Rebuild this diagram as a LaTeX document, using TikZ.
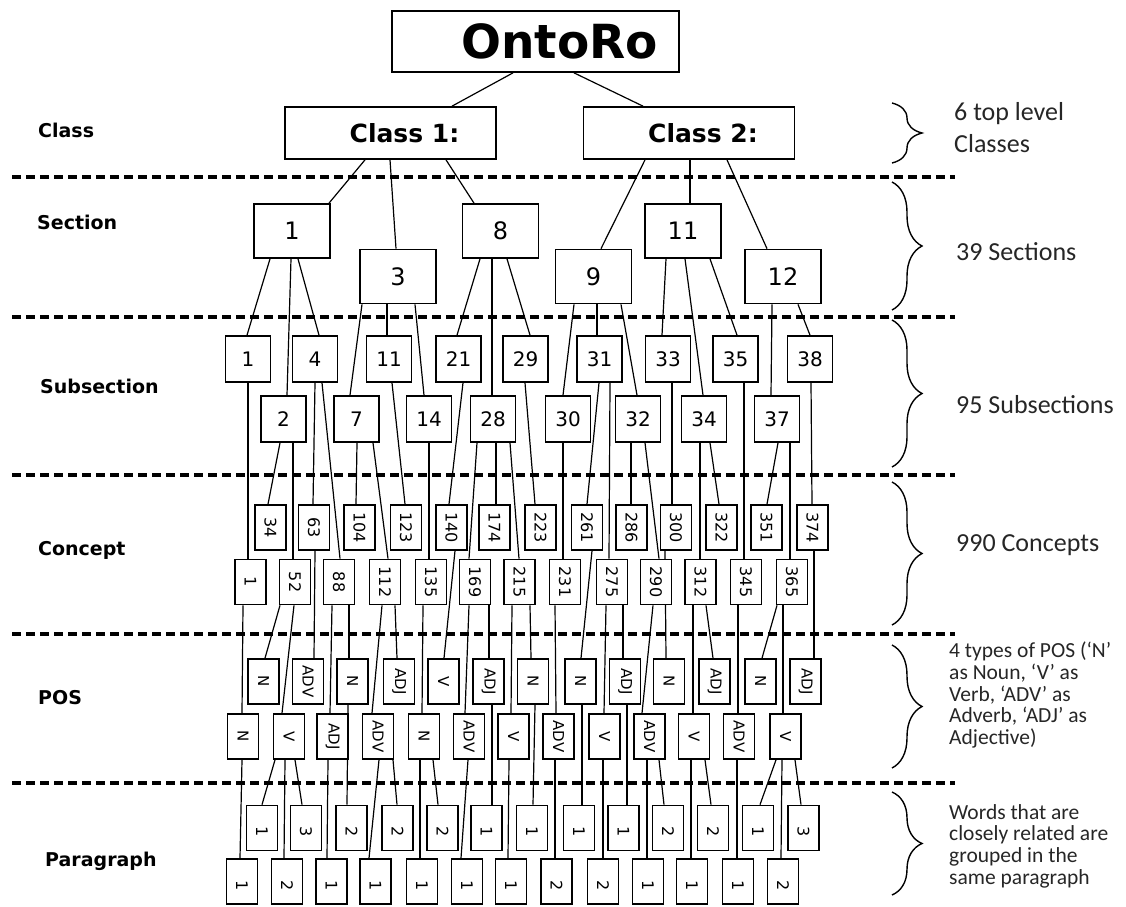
\documentclass[tikz,border=0pt]{standalone}
\usepackage{fontspec}
\usepackage{graphicx}
\setmainfont{Carlito}
\newfontfamily\vfont{DejaVu Sans}
\usetikzlibrary{backgrounds,decorations.pathreplacing}
\newcommand\myrot[1]{\rotatebox{-90}{#1}}
\newcommand\lnk[4]{\draw[conn] ([xshift=#2]#1.south) -- ([xshift=#4]#3.north);}
\tikzset{
  box/.style={draw, line width=1.7pt, fill=white, inner sep=0pt},
  rootbox/.style={box, minimum width=287, minimum height=61, font={\vfont\bfseries\fontsize{47}{50}\selectfont}},
  classbox/.style={box, minimum width=211, minimum height=52, font={\vfont\bfseries\fontsize{25}{28}\selectfont}},
  secbox/.style={box, minimum width=76, minimum height=54, font={\vfont\fontsize{24}{26}\selectfont}},
  subbox/.style={box, minimum width=45, minimum height=46, font={\vfont\fontsize{20}{22}\selectfont}},
  conbox/.style={box, minimum width=31, minimum height=45, font={\vfont\fontsize{16}{18}\selectfont}},
  posbox/.style={box, minimum width=31, minimum height=45, font={\vfont\fontsize{15}{17}\selectfont}},
  parbox/.style={box, minimum width=31, minimum height=45, font={\vfont\fontsize{16}{18}\selectfont}},
  conn/.style={line width=1.2pt},
  sepline/.style={line width=3.2pt, dash pattern=on 9pt off 5pt},
  lab/.style={anchor=west, inner sep=0pt, font={\vfont\bfseries\fontsize{19}{21}\selectfont}},
  note/.style={anchor=west, inner sep=0pt, align=left, text=black!85, font={\fontsize{26}{32}\selectfont}},
  smallnote/.style={anchor=west, inner sep=0pt, align=left, text=black!85, font={\fontsize{21.5}{21.7}\selectfont}},
  bracestyle/.style={line width=1.4pt, decorate, decoration={brace, amplitude=30pt}}
}
\begin{document}
\begin{tikzpicture}[x=1pt,y=-1pt]
\useasboundingbox (0,0) rectangle (1126,906);

% separators
\foreach \yy in {177,317,475,634,783} {\draw[sepline] (12,\yy) -- (955,\yy);}

% left labels
\node[lab] (lClass) at (38,130) {Class};
\node[lab] (lSection) at (37,222) {Section};
\node[lab] (lSub) at (40,386) {Subsection};
\node[lab] (lConcept) at (38,550) {Concept};
\node[lab] (lPOS) at (38,698) {POS};
\node[lab] (lPar) at (45,861) {Paragraph};

% braces and notes
\draw[bracestyle] (892,103) -- (892,163);
\draw[bracestyle] (892,182) -- (892,310);
\draw[bracestyle] (892,320) -- (892,467);
\draw[bracestyle] (892,482) -- (892,625);
\draw[bracestyle] (892,645) -- (892,768);
\draw[bracestyle] (892,792) -- (892,895);
\node[note] (n1) at (954,127.5) {6 top level\\Classes};
\node[note] (n2) at (956,252) {39 Sections};
\node[note] (n3) at (956,405) {95 Subsections};
\node[note] (n4) at (956,545) {990 Concepts};
\node[smallnote] (n5) at (949,695) {4 types of POS (‘N’\\as Noun, ‘V’ as\\Verb, ‘ADV’ as\\Adverb, ‘ADJ’ as\\Adjective)};
\node[smallnote] (n6) at (949,846) {Words that are\\closely related are\\grouped in the\\same paragraph};

% root and classes
\node[rootbox] (onto) at (535.5,41.5) {\hspace*{48pt}OntoRo};
\node[classbox] (cl1) at (390.5,133) {\hspace*{28pt}Class 1:};
\node[classbox] (cl2) at (689,133) {\hspace*{28pt}Class 2:};

% sections
\node[secbox] (s1) at (292,231) {1};
\node[secbox] (s3) at (398,276.5) {3};
\node[secbox] (s8) at (500.5,231) {8};
\node[secbox] (s9) at (593.5,276.5) {9};
\node[secbox] (s11) at (683,231) {11};
\node[secbox] (s12) at (783,276.5) {12};

% subsections
\node[subbox] (ss1) at (248,359) {1};
\node[subbox] (ss4) at (315,359) {4};
\node[subbox] (ss11) at (389,359) {11};
\node[subbox] (ss21) at (458.5,359) {21};
\node[subbox] (ss29) at (525.5,359) {29};
\node[subbox] (ss31) at (599.5,359) {31};
\node[subbox] (ss33) at (668,359) {33};
\node[subbox] (ss35) at (735.5,359) {35};
\node[subbox] (ss38) at (810,359) {38};
\node[subbox] (ss2) at (283.5,419) {2};
\node[subbox] (ss7) at (356.5,419) {7};
\node[subbox] (ss14) at (429,419) {14};
\node[subbox] (ss28) at (493,419) {28};
\node[subbox] (ss30) at (568,419) {30};
\node[subbox] (ss32) at (638,419) {32};
\node[subbox] (ss34) at (704,419) {34};
\node[subbox] (ss37) at (777,419) {37};

% concepts
\node[conbox] (c34) at (270.5,527.5) {\myrot{34}};
\node[conbox] (c63) at (314,527.5) {\myrot{63}};
\node[conbox] (c104) at (359.5,527.5) {\myrot{104}};
\node[conbox] (c123) at (406,527.5) {\myrot{123}};
\node[conbox] (c140) at (451.5,527.5) {\myrot{140}};
\node[conbox] (c174) at (494.5,527.5) {\myrot{174}};
\node[conbox] (c223) at (540.5,527.5) {\myrot{223}};
\node[conbox] (c261) at (587,527.5) {\myrot{261}};
\node[conbox] (c286) at (631.5,527.5) {\myrot{286}};
\node[conbox] (c300) at (676,527.5) {\myrot{300}};
\node[conbox] (c322) at (721.5,527.5) {\myrot{322}};
\node[conbox] (c351) at (766.5,527.5) {\myrot{351}};
\node[conbox] (c374) at (812.5,527.5) {\myrot{374}};
\node[conbox] (c1) at (250.5,582) {\myrot{1}};
\node[conbox] (c52) at (295,582) {\myrot{52}};
\node[conbox] (c88) at (339,582) {\myrot{88}};
\node[conbox] (c112) at (385,582) {\myrot{112}};
\node[conbox] (c135) at (431,582) {\myrot{135}};
\node[conbox] (c169) at (475,582) {\myrot{169}};
\node[conbox] (c215) at (519.5,582) {\myrot{215}};
\node[conbox] (c231) at (565,582) {\myrot{231}};
\node[conbox] (c275) at (612,582) {\myrot{275}};
\node[conbox] (c290) at (656,582) {\myrot{290}};
\node[conbox] (c312) at (700.5,582) {\myrot{312}};
\node[conbox] (c345) at (746,582) {\myrot{345}};
\node[conbox] (c365) at (792,582) {\myrot{365}};

% POS
\node[posbox] (pN1) at (263.5,681.5) {\myrot{N}};
\node[posbox] (pADV1) at (308,681.5) {\myrot{ADV}};
\node[posbox] (pN2) at (352.5,681.5) {\myrot{N}};
\node[posbox] (pADJ1) at (399,681.5) {\myrot{ADJ}};
\node[posbox] (pV1) at (443.5,681.5) {\myrot{V}};
\node[posbox] (pADJ2) at (488.5,681.5) {\myrot{ADJ}};
\node[posbox] (pN3) at (533,681.5) {\myrot{N}};
\node[posbox] (pN4) at (580.5,681.5) {\myrot{N}};
\node[posbox] (pADJ3) at (625,681.5) {\myrot{ADJ}};
\node[posbox] (pN5) at (669,681.5) {\myrot{N}};
\node[posbox] (pADJ4) at (714.5,681.5) {\myrot{ADJ}};
\node[posbox] (pN6) at (760.5,681.5) {\myrot{N}};
\node[posbox] (pADJ5) at (805.5,681.5) {\myrot{ADJ}};
\node[posbox] (qN1) at (243,736.5) {\myrot{N}};
\node[posbox] (qV1) at (289,736.5) {\myrot{V}};
\node[posbox] (qADJ1) at (332.5,736.5) {\myrot{ADJ}};
\node[posbox] (qADV1) at (378,736.5) {\myrot{ADV}};
\node[posbox] (qN2) at (424,736.5) {\myrot{N}};
\node[posbox] (qADV2) at (469,736.5) {\myrot{ADV}};
\node[posbox] (qV2) at (513.5,736.5) {\myrot{V}};
\node[posbox] (qADV3) at (558.5,736.5) {\myrot{ADV}};
\node[posbox] (qV3) at (604.5,736.5) {\myrot{V}};
\node[posbox] (qADV4) at (649.5,736.5) {\myrot{ADV}};
\node[posbox] (qV4) at (694,736.5) {\myrot{V}};
\node[posbox] (qADV5) at (739,736.5) {\myrot{ADV}};
\node[posbox] (qV5) at (785.5,736.5) {\myrot{V}};

% paragraphs
\node[parbox] (r1) at (262,828) {\myrot{\hspace*{8pt}1}};
\node[parbox] (r2) at (306,828) {\myrot{\hspace*{8pt}3}};
\node[parbox] (r3) at (351.5,828) {\myrot{\hspace*{8pt}2}};
\node[parbox] (r4) at (397.5,828) {\myrot{\hspace*{8pt}2}};
\node[parbox] (r5) at (442.5,828) {\myrot{\hspace*{8pt}2}};
\node[parbox] (r6) at (486.5,828) {\myrot{\hspace*{8pt}1}};
\node[parbox] (r7) at (532,828) {\myrot{\hspace*{8pt}1}};
\node[parbox] (r8) at (579,828) {\myrot{\hspace*{8pt}1}};
\node[parbox] (r9) at (623.5,828) {\myrot{\hspace*{8pt}1}};
\node[parbox] (r10) at (668,828) {\myrot{\hspace*{8pt}2}};
\node[parbox] (r11) at (713,828) {\myrot{\hspace*{8pt}2}};
\node[parbox] (r12) at (758,828) {\myrot{\hspace*{8pt}1}};
\node[parbox] (r13) at (803.5,828) {\myrot{\hspace*{8pt}3}};
\node[parbox] (t1) at (242,881.5) {\myrot{\hspace*{8pt}1}};
\node[parbox] (t2) at (287,881.5) {\myrot{\hspace*{8pt}2}};
\node[parbox] (t3) at (331.5,881.5) {\myrot{\hspace*{8pt}1}};
\node[parbox] (t4) at (375.5,881.5) {\myrot{\hspace*{8pt}1}};
\node[parbox] (t5) at (422,881.5) {\myrot{\hspace*{8pt}1}};
\node[parbox] (t6) at (467,881.5) {\myrot{\hspace*{8pt}1}};
\node[parbox] (t7) at (511,881.5) {\myrot{\hspace*{8pt}1}};
\node[parbox] (t8) at (556.5,881.5) {\myrot{\hspace*{8pt}2}};
\node[parbox] (t9) at (603,881.5) {\myrot{\hspace*{8pt}2}};
\node[parbox] (t10) at (648,881.5) {\myrot{\hspace*{8pt}1}};
\node[parbox] (t11) at (692,881.5) {\myrot{\hspace*{8pt}1}};
\node[parbox] (t12) at (738,881.5) {\myrot{\hspace*{8pt}1}};
\node[parbox] (t13) at (783,881.5) {\myrot{\hspace*{8pt}2}};

\begin{pgfonlayer}{background}
% root -> classes
\lnk{onto}{-22.5}{cl1}{61.5}
\lnk{onto}{38.5}{cl2}{-46}
% classes -> sections
\lnk{cl1}{-25.5}{s1}{37}
\lnk{cl1}{-0.5}{s3}{-2}
\lnk{cl1}{55.5}{s8}{-26.5}
\lnk{cl2}{-44}{s9}{7.5}
\lnk{cl2}{1}{s11}{7}
\lnk{cl2}{38}{s12}{-16}
% sections -> subsections
\lnk{s1}{-22}{ss1}{-1}
\lnk{s1}{-1}{ss2}{3.5}
\lnk{s1}{6}{ss4}{4}
\lnk{s3}{-36}{ss7}{-6.5}
\lnk{s3}{-11}{ss11}{-2}
\lnk{s3}{17}{ss14}{-5}
\lnk{s8}{-20.5}{ss21}{-1.5}
\lnk{s8}{-8.5}{ss28}{-1}
\lnk{s8}{6.5}{ss29}{4.5}
\lnk{s9}{-19.5}{ss30}{-5}
\lnk{s9}{3.5}{ss31}{-2.5}
\lnk{s9}{27.5}{ss32}{-1}
\lnk{s11}{-17}{ss33}{-6}
\lnk{s11}{2}{ss34}{-1}
\lnk{s11}{27}{ss35}{1.5}
\lnk{s12}{-11}{ss37}{-6}
\lnk{s12}{15}{ss38}{0}
% subsections -> concepts
\lnk{ss1}{0}{c1}{-2.5}
\lnk{ss2}{-3.5}{c34}{-2.5}
\lnk{ss2}{9.5}{c52}{-2}
\lnk{ss4}{0}{c63}{-1}
\lnk{ss4}{7}{c88}{1}
\lnk{ss7}{0.5}{c104}{-3.5}
\lnk{ss7}{16.5}{c112}{3}
\lnk{ss11}{3}{c123}{-1}
\lnk{ss14}{0}{c135}{-2}
\lnk{ss21}{4.5}{c140}{-2.5}
\lnk{ss28}{-16}{c169}{-6}
\lnk{ss28}{3}{c174}{1.5}
\lnk{ss28}{17}{c215}{-0.5}
\lnk{ss29}{-0.5}{c223}{-5.5}
\lnk{ss30}{-5}{c231}{-2}
\lnk{ss31}{-0.5}{c261}{0}
\lnk{ss31}{10.5}{c275}{-3}
\lnk{ss32}{-7}{c286}{-0.5}
\lnk{ss32}{7}{c290}{3}
\lnk{ss33}{4}{c300}{-4}
\lnk{ss34}{-4}{c312}{-0.5}
\lnk{ss34}{6}{c322}{-2.5}
\lnk{ss35}{8.5}{c345}{-2}
\lnk{ss37}{1}{c351}{0.5}
\lnk{ss37}{13}{c365}{-2}
\lnk{ss38}{1}{c374}{-0.5}
% concepts -> POS
\lnk{c1}{-7.5}{qN1}{-1}
\lnk{c52}{-15}{pN1}{1.5}
\lnk{c52}{-1}{qV1}{-7}
\lnk{c63}{1}{pADV1}{6}
\lnk{c88}{-7}{qADJ1}{-2.5}
\lnk{c88}{10}{pN2}{-3.5}
\lnk{c112}{-3}{qADV1}{-6}
\lnk{c112}{10}{pADJ1}{-2}
\lnk{c135}{-8}{qN2}{-2}
\lnk{c140}{3.5}{pV1}{0.5}
\lnk{c169}{-6}{qADV2}{-4}
\lnk{c169}{14}{pADJ2}{0.5}
\lnk{c215}{-7.5}{qV2}{-2.5}
\lnk{c215}{10.5}{pN3}{-2}
\lnk{c231}{-10}{qADV3}{-2.5}
\lnk{c261}{5}{pN4}{0.5}
\lnk{c275}{-6}{qV3}{-0.5}
\lnk{c275}{11}{pADJ3}{-2}
\lnk{c290}{-3}{qADV4}{-7.5}
\lnk{c300}{-11}{pN5}{-3}
\lnk{c312}{-7.5}{qV4}{-1}
\lnk{c312}{5.5}{pADJ4}{-1.5}
\lnk{c345}{-8}{qADV5}{-1}
\lnk{c365}{-15}{pN6}{1.5}
\lnk{c365}{-9}{qV5}{-2.5}
\lnk{c374}{1.5}{pADJ5}{8.5}
% POS -> paragraphs
\lnk{qN1}{-1}{t1}{-2}
\lnk{qV1}{-14}{r1}{0}
\lnk{qV1}{-4}{t2}{-3}
\lnk{qV1}{6}{r2}{-4}
\lnk{qADJ1}{-4.5}{t3}{-4.5}
\lnk{pN2}{-4.5}{r3}{-4.5}
\lnk{qADV1}{1}{t4}{-6.5}
\lnk{qADV1}{15}{r4}{-0.5}
\lnk{qN2}{-4}{t5}{-2}
\lnk{qN2}{9}{r5}{-4.5}
\lnk{qADV2}{-1}{t6}{-6}
\lnk{pADJ2}{3.5}{r6}{5.5}
\lnk{qV2}{-4.5}{t7}{-3}
\lnk{pN3}{2}{r7}{1}
\lnk{qADV3}{-3.5}{t8}{-1.5}
\lnk{pN4}{1.5}{r8}{3}
\lnk{qV3}{-1.5}{t9}{0}
\lnk{pADJ3}{2}{r9}{3.5}
\lnk{qADV4}{-2.5}{t10}{-1}
\lnk{qADV4}{9.5}{r10}{-4}
\lnk{qV4}{-3}{t11}{-1}
\lnk{qV4}{11}{r11}{-2}
\lnk{qADV5}{-2}{t12}{-1}
\lnk{qV5}{-9.5}{r12}{2}
\lnk{qV5}{-3.5}{t13}{-2}
\lnk{qV5}{9.5}{r13}{-2.5}
\end{pgfonlayer}
\end{tikzpicture}
\end{document}
